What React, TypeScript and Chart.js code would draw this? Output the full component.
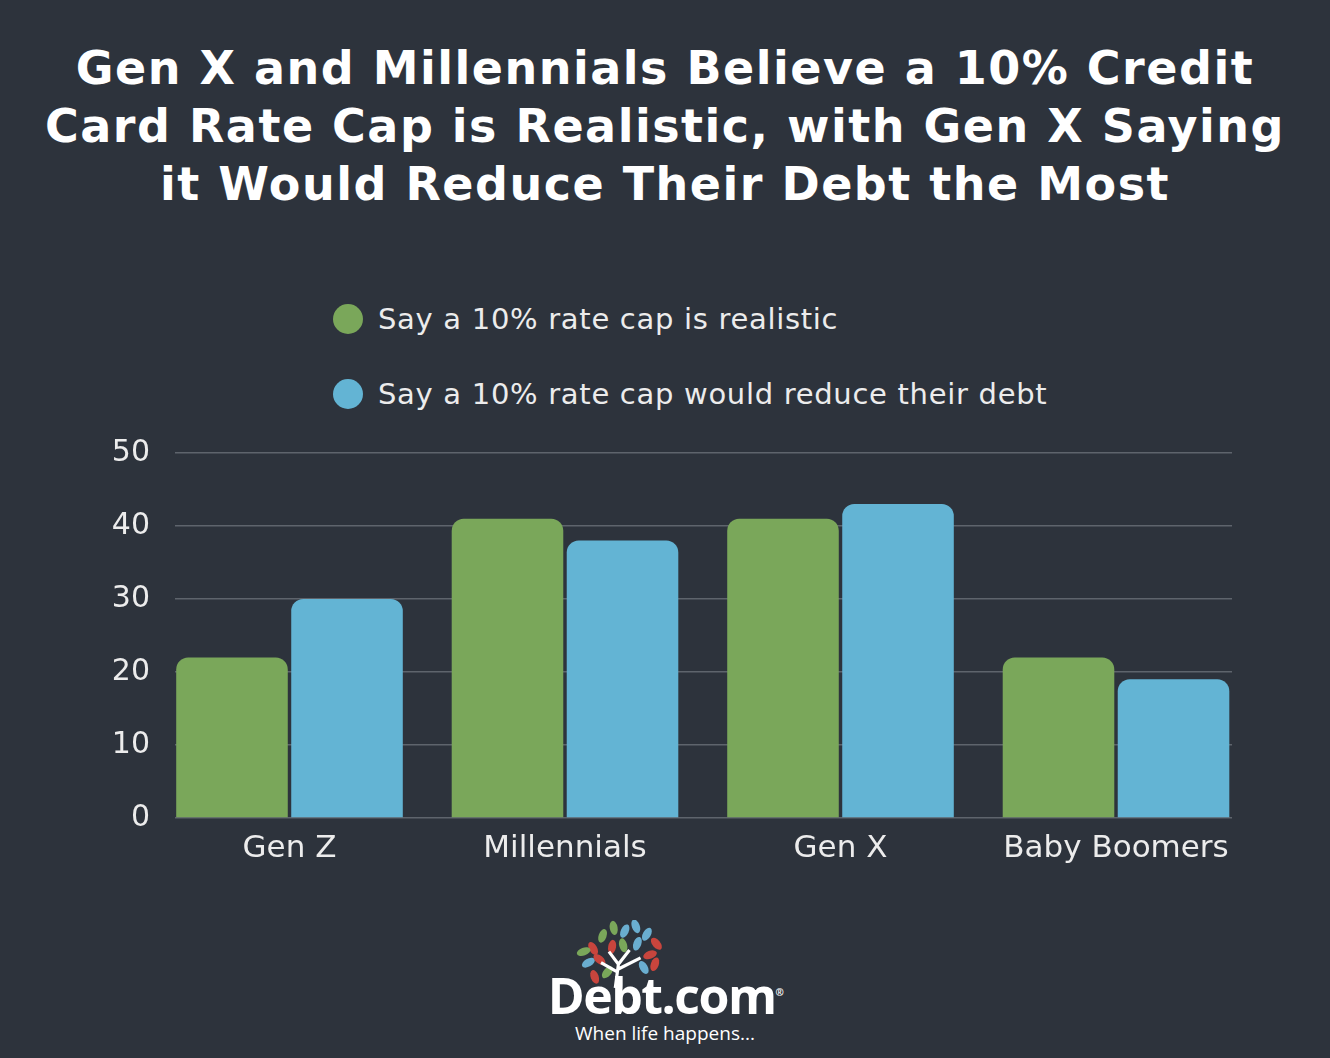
import React, { useEffect, useRef } from "react";
import { Chart, registerables } from "chart.js";

Chart.register(...registerables);

const title = [
  "Gen X and Millennials Believe a 10% Credit",
  "Card Rate Cap is Realistic, with Gen X Saying",
  "it Would Reduce Their Debt the Most",
];
const categories = ["Gen Z", "Millennials", "Gen X", "Baby Boomers"];
const seriesNames = [
  "Say a 10% rate cap is realistic",
  "Say a 10% rate cap would reduce their debt",
];
const realistic = [22, 41, 41, 22];
const reduceDebt = [30, 38, 43, 19];
const yMin = 0;
const yMax = 50;
const yStep = 10;

const BG = "#2d333c";
const GREEN = "#7aa75a";
const BLUE = "#63b4d4";
const TEXT = "#ececec";
const FONT = "'DejaVu Sans', Verdana, sans-serif";

const seriesColors = [GREEN, BLUE];

const CANVAS_TOP = 410;
const CANVAS_H = 480;

function BarChart() {
  const ref = useRef<HTMLCanvasElement | null>(null);
  useEffect(() => {
    if (!ref.current) return;
    const chart = new Chart(ref.current, {
      type: "bar",
      data: {
        datasets: [realistic, reduceDebt].map((vals, d) => ({
          label: seriesNames[d],
          data: vals.map((v, i) => ({ x: i, y: v })),
          backgroundColor: seriesColors[d],
          borderRadius: 12,
          borderSkipped: "bottom",
          categoryPercentage: 0.835,
          barPercentage: 0.97,
        })),
      },
      options: {
        responsive: false,
        animation: false,
        layout: { padding: { top: 22, right: 98, left: 0, bottom: 0 } },
        plugins: {
          legend: { display: false },
          title: { display: false },
          tooltip: { enabled: false },
        },
        scales: {
          x: {
            type: "linear",
            offset: false,
            bounds: "data",
            min: -0.4156,
            max: categories.length - 1 + 0.421,
            afterBuildTicks: (scale: any) => {
              scale.ticks = categories.map((_, i) => ({ value: i }));
            },
            afterFit: (scale: any) => {
              scale.height = 72;
            },
            grid: { display: false, drawTicks: false, offset: false },
            border: { display: false },
            ticks: {
              autoSkip: false,
              includeBounds: false,
              maxRotation: 0,
              padding: 12,
              color: TEXT,
              font: { family: FONT, size: 31 },
              callback: (v: any) => categories[Math.round(Number(v))] ?? "",
            },
          },
          y: {
            min: yMin,
            max: yMax,
            afterFit: (scale: any) => {
              scale.width = 175;
            },
            grid: { color: "#5e646c", lineWidth: 1.5, drawTicks: false },
            border: { display: false },
            ticks: {
              stepSize: yStep,
              padding: 25,
              color: TEXT,
              font: { family: FONT, size: 30 },
            },
          },
        },
      },
    });
    return () => chart.destroy();
  }, []);
  return (
    <canvas
      ref={ref}
      width={1330}
      height={CANVAS_H}
      style={{ position: "absolute", left: 0, top: CANVAS_TOP, width: 1330, height: CANVAS_H }}
    />
  );
}

function Logo() {
  const leaves: [number, number, number, string][] = [
    [32, 40, -30, "#c8453d"], [44, 24, 20, "#7aa75a"], [58, 14, -10, "#7aa75a"],
    [72, 18, 25, "#6aaed0"], [86, 12, -20, "#6aaed0"], [100, 22, 30, "#6aaed0"],
    [112, 34, -40, "#c8453d"], [26, 58, 60, "#6aaed0"], [40, 54, -50, "#c8453d"],
    [56, 38, 10, "#c8453d"], [70, 36, -15, "#7aa75a"], [88, 34, 20, "#6aaed0"],
    [104, 48, 70, "#c8453d"], [34, 76, -20, "#c8453d"], [50, 70, 40, "#7aa75a"],
    [96, 64, -30, "#6aaed0"], [110, 60, 20, "#c8453d"], [20, 44, 70, "#7aa75a"],
  ];
  return (
    <div style={{ position: "absolute", left: 568, top: 920, width: 104, height: 68 }}>
      <svg width="104" height="68" viewBox="10 4 112 86" style={{ display: "block" }}>
        {leaves.map(([cx, cy, r, c], i) => (
          <ellipse key={i} cx={cx} cy={cy} rx={5} ry={9} fill={c} transform={`rotate(${r} ${cx} ${cy})`} />
        ))}
        <path d="M60 90 L64 60 L52 44 M64 60 L78 42 M63 70 L42 58 M64 66 L92 52" stroke="#fff" strokeWidth={4} fill="none" />
      </svg>
    </div>
  );
}

export default function App() {
  useEffect(() => {
    document.body.style.margin = "0";
    document.body.style.background = BG;
  }, []);
  return (
    <div style={{ position: "relative", width: 1330, height: 1058, background: BG, overflow: "hidden", fontFamily: FONT }}>
      <div
        style={{
          position: "absolute",
          top: 39,
          left: 0,
          width: 1330,
          textAlign: "center",
          color: "#ffffff",
          fontWeight: 700,
          fontSize: 46,
          letterSpacing: 1.5,
          lineHeight: "58px",
          whiteSpace: "nowrap",
        }}
      >
        {title.map((t, i) => (
          <div key={i}>{t}</div>
        ))}
      </div>
      {seriesNames.map((name, i) => (
        <div
          key={i}
          style={{
            position: "absolute",
            left: 333,
            top: 300 + i * 75,
            height: 38,
            display: "flex",
            alignItems: "center",
            color: TEXT,
            fontSize: 29,
            letterSpacing: 0.7,
            whiteSpace: "nowrap",
          }}
        >
          <span
            style={{
              display: "inline-block",
              width: 30,
              height: 30,
              borderRadius: "50%",
              background: seriesColors[i],
              marginRight: 15,
            }}
          />
          {name}
        </div>
      ))}
      <BarChart />
      <Logo />
      <div
        style={{
          position: "absolute",
          left: 540,
          top: 962,
          width: 250,
          textAlign: "center",
          color: "#ffffff",
          fontFamily: "'Open Sans', sans-serif",
          fontWeight: 700,
          fontSize: 50,
          lineHeight: "60px",
          letterSpacing: -1.5,
        }}
      >
        Debt.com<sup style={{ fontSize: 10, verticalAlign: "super" }}>®</sup>
      </div>
      <div
        style={{
          position: "absolute",
          left: 540,
          top: 1020,
          width: 250,
          textAlign: "center",
          color: "#ffffff",
          fontFamily: "'Open Sans', sans-serif",
          fontSize: 19,
          lineHeight: "26px",
        }}
      >
        When life happens...
      </div>
    </div>
  );
}
